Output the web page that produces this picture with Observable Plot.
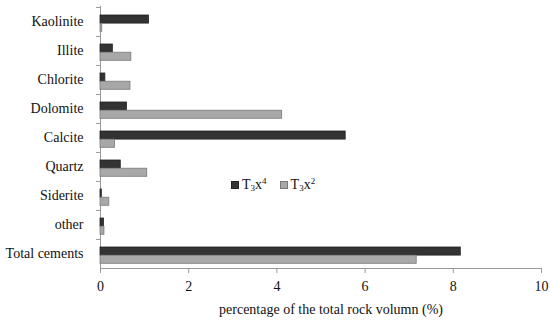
<!DOCTYPE html>
<html>
<head>
<meta charset="utf-8">
<script src="https://cdn.jsdelivr.net/npm/d3@7"></script>
<script src="https://cdn.jsdelivr.net/npm/@observablehq/plot@0.6"></script>
<style>
  body { margin: 0; background: #fff; }
  #wrap { position: relative; width: 550px; height: 320px; font-family: "Liberation Serif", "DejaVu Serif", serif; }
  #legend { position: absolute; left: 231px; top: 177px; font-size: 14px; color: #111; display: flex; align-items: center; white-space: nowrap; }
  .sw { display: inline-block; width: 8px; height: 8px; margin-right: 3px; box-sizing: border-box; }
  .sub { font-size: 9px; position: relative; top: 2px; }
  .sup { font-size: 9px; position: relative; top: -5px; }
</style>
</head>
<body>
<div id="wrap">
  <div id="chart"></div>
  <div id="legend">
    <span class="sw" style="background:#333;border:1px solid #222"></span><span>T<span class="sub">3</span>x<span class="sup">4</span></span>
    <span class="sw" style="background:#a8a8a8;border:1px solid #7a7a7a;margin-left:13px"></span><span>T<span class="sub">3</span>x<span class="sup">2</span></span>
  </div>
</div>
<script>
const categories = ["Kaolinite","Illite","Chlorite","Dolomite","Calcite","Quartz","Siderite","other","Total cements"];
const t3x4 = [1.10, 0.28, 0.11, 0.60, 5.56, 0.46, 0.03, 0.08, 8.17];
const t3x2 = [0.04, 0.70, 0.68, 4.12, 0.33, 1.06, 0.20, 0.09, 7.17];
const xTicks = [0, 2, 4, 6, 8, 10];
const xLabel = "percentage of the total rock volumn (%)";

const rows4 = categories.map((c, i) => ({cat: c, v: t3x4[i]}));
const rows2 = categories.map((c, i) => ({cat: c, v: t3x2[i]}));

const W = 550, H = 320, mT = 6, mB = 52;
const bw = (H - mT - mB) / categories.length;
const barH = 8.2, top0 = 8;

const chart = Plot.plot({
  width: W, height: H,
  marginLeft: 100, marginRight: 9, marginTop: mT, marginBottom: mB,
  style: {fontFamily: "'Liberation Serif', 'DejaVu Serif', serif", fontSize: "14px", color: "#111", background: "#fff"},
  x: {domain: [0, 10]},
  y: {domain: categories, padding: 0},
  marks: [
    Plot.frame({anchor: "left", stroke: "#999"}),
    Plot.frame({anchor: "bottom", stroke: "#999"}),
    Plot.axisY({tickSize: 4, text: null, label: null, dy: -bw / 2, stroke: "#999"}),
    Plot.axisY({tickSize: 0, tickPadding: 17, label: null, fontSize: 14}),
    Plot.axisX({ticks: xTicks, tickSize: 5, tickPadding: 8, stroke: "#999", label: null, fontSize: 14}),
    Plot.text([xLabel], {text: d => d, frameAnchor: "bottom", dy: 41, dx: 10, fontSize: 14, fill: "#111", lineAnchor: "middle", clip: false}),
    Plot.barX(rows4, {y: "cat", x: "v", fill: "#333", stroke: "#222", strokeWidth: 0.8,
      insetTop: top0, insetBottom: bw - top0 - barH}),
    Plot.barX(rows2, {y: "cat", x: "v", fill: "#a8a8a8", stroke: "#7a7a7a", strokeWidth: 0.8,
      insetTop: top0 + barH, insetBottom: bw - top0 - 2 * barH})
  ]
});
document.getElementById("chart").appendChild(chart);
</script>
</body>
</html>
